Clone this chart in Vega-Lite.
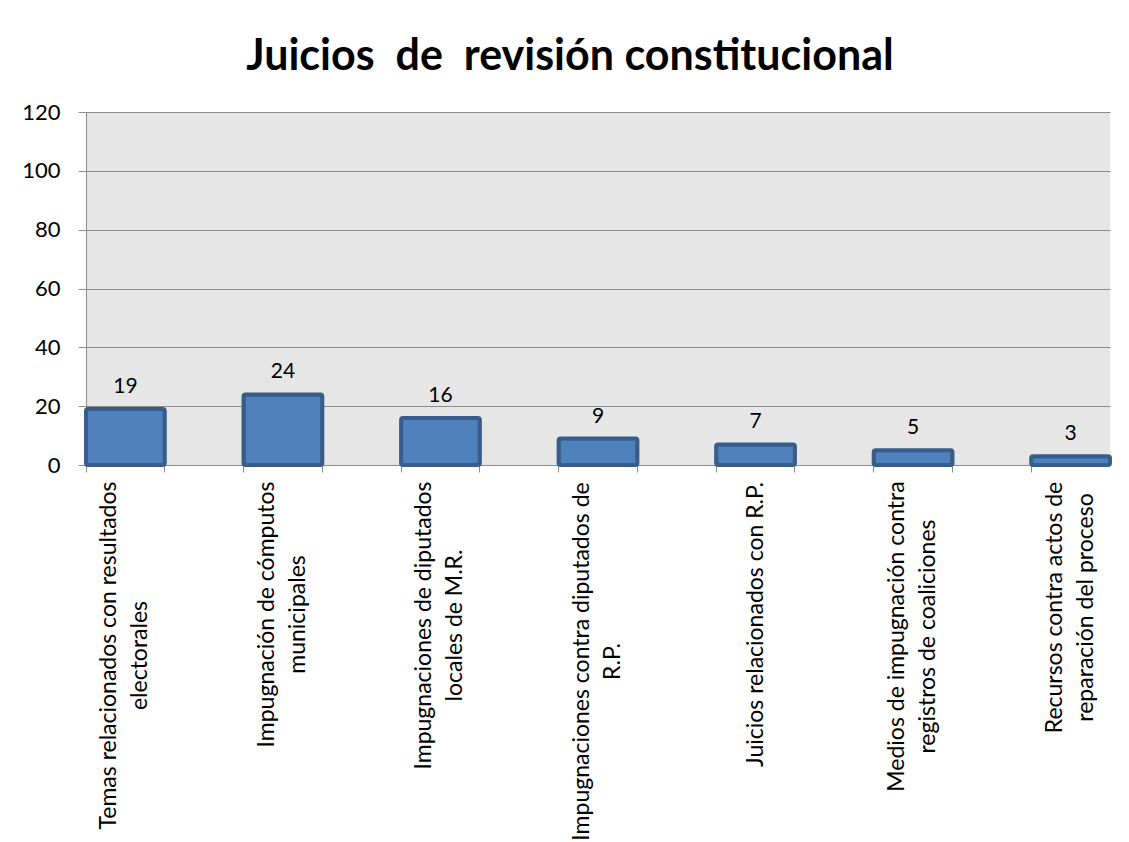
{
  "$schema": "https://vega.github.io/schema/vega-lite/v6.json",
  "autosize": {"type": "none"},
  "width": 1024,
  "height": 353,
  "padding": {"left": 86, "top": 112, "right": 19, "bottom": 377},
  "background": "white",
  "title": {
    "text": "Juicios \u00a0de \u00a0revisión constitucional",
    "font": "Lato",
    "fontSize": 43,
    "fontWeight": "bold",
    "color": "#000000",
    "anchor": "middle",
    "dx": -28,
    "baseline": "alphabetic",
    "offset": 0,
    "dy": 12
  },
  "config": {
    "view": {"fill": "#e6e6e6", "stroke": null},
    "axis": {"labelFont": "Lato", "labelColor": "#000000", "domainColor": "#8c8c8c", "tickColor": "#8c8c8c", "gridColor": "#8c8c8c"}
  },
  "data": {
    "values": [
      {"tema": "Temas relacionados con resultados|electorales", "juicios": 19},
      {"tema": "Impugnación de cómputos|municipales", "juicios": 24},
      {"tema": "Impugnaciones de diputados|locales de M.R.", "juicios": 16},
      {"tema": "Impugnaciones contra diputados de|R.P.", "juicios": 9},
      {"tema": "Juicios relacionados con R.P.", "juicios": 7},
      {"tema": "Medios de impugnación contra|registros de coaliciones", "juicios": 5},
      {"tema": "Recursos contra actos de|reparación del proceso", "juicios": 3}
    ]
  },
  "encoding": {
    "x": {
      "field": "tema",
      "type": "nominal",
      "sort": null,
      "scale": {
        "domain": [
          "Temas relacionados con resultados|electorales", "_1",
          "Impugnación de cómputos|municipales", "_2",
          "Impugnaciones de diputados|locales de M.R.", "_3",
          "Impugnaciones contra diputados de|R.P.", "_4",
          "Juicios relacionados con R.P.", "_5",
          "Medios de impugnación contra|registros de coaliciones", "_6",
          "Recursos contra actos de|reparación del proceso"
        ],
        "paddingInner": 0,
        "paddingOuter": 0
      },
      "axis": {
        "title": null,
        "bandPosition": 0,
        "labelOffset": {
          "condition": {"test": "indexof(datum.value, '|') >= 0", "value": -16},
          "value": 0
        },
        "labelAngle": -90,
        "labelAlign": "center",
        "labelBaseline": "middle",
        "labelFontSize": 23,
        "labelLineHeight": 31,
        "labelPadding": {
          "condition": [
            {"test": "indexof(datum.value, 'Temas') == 0", "value": 183},
            {"test": "indexof(datum.value, 'Impugnación de') == 0", "value": 142},
            {"test": "indexof(datum.value, 'Impugnaciones de') == 0", "value": 153},
            {"test": "indexof(datum.value, 'Impugnaciones contra') == 0", "value": 189},
            {"test": "indexof(datum.value, 'Juicios') == 0", "value": 152},
            {"test": "indexof(datum.value, 'Medios') == 0", "value": 164},
            {"test": "indexof(datum.value, 'Recursos') == 0", "value": 135}
          ],
          "value": 8
        },
        "tickSize": 7,
        "labelExpr": "indexof(datum.label, '_') == 0 ? '' : split(datum.label, '|')",
        "labelOverlap": false,
        "labelLimit": 0
      }
    },
    "y": {
      "field": "juicios",
      "type": "quantitative",
      "scale": {"domain": [0, 120]},
      "axis": {
        "title": null,
        "values": [0, 20, 40, 60, 80, 100, 120],
        "grid": true,
        "tickSize": 8,
        "labelFontSize": 22,
        "labelPadding": 18
      }
    }
  },
  "layer": [
    {
      "mark": {"type": "bar", "fill": "#4f81bd", "stroke": "#385d8a", "strokeWidth": 4, "cornerRadius": 2}
    },
    {
      "mark": {"type": "text", "font": "Lato", "fontSize": 21, "color": "#000000", "baseline": "alphabetic", "dy": -16},
      "encoding": {"text": {"field": "juicios", "type": "quantitative"}}
    }
  ]
}
